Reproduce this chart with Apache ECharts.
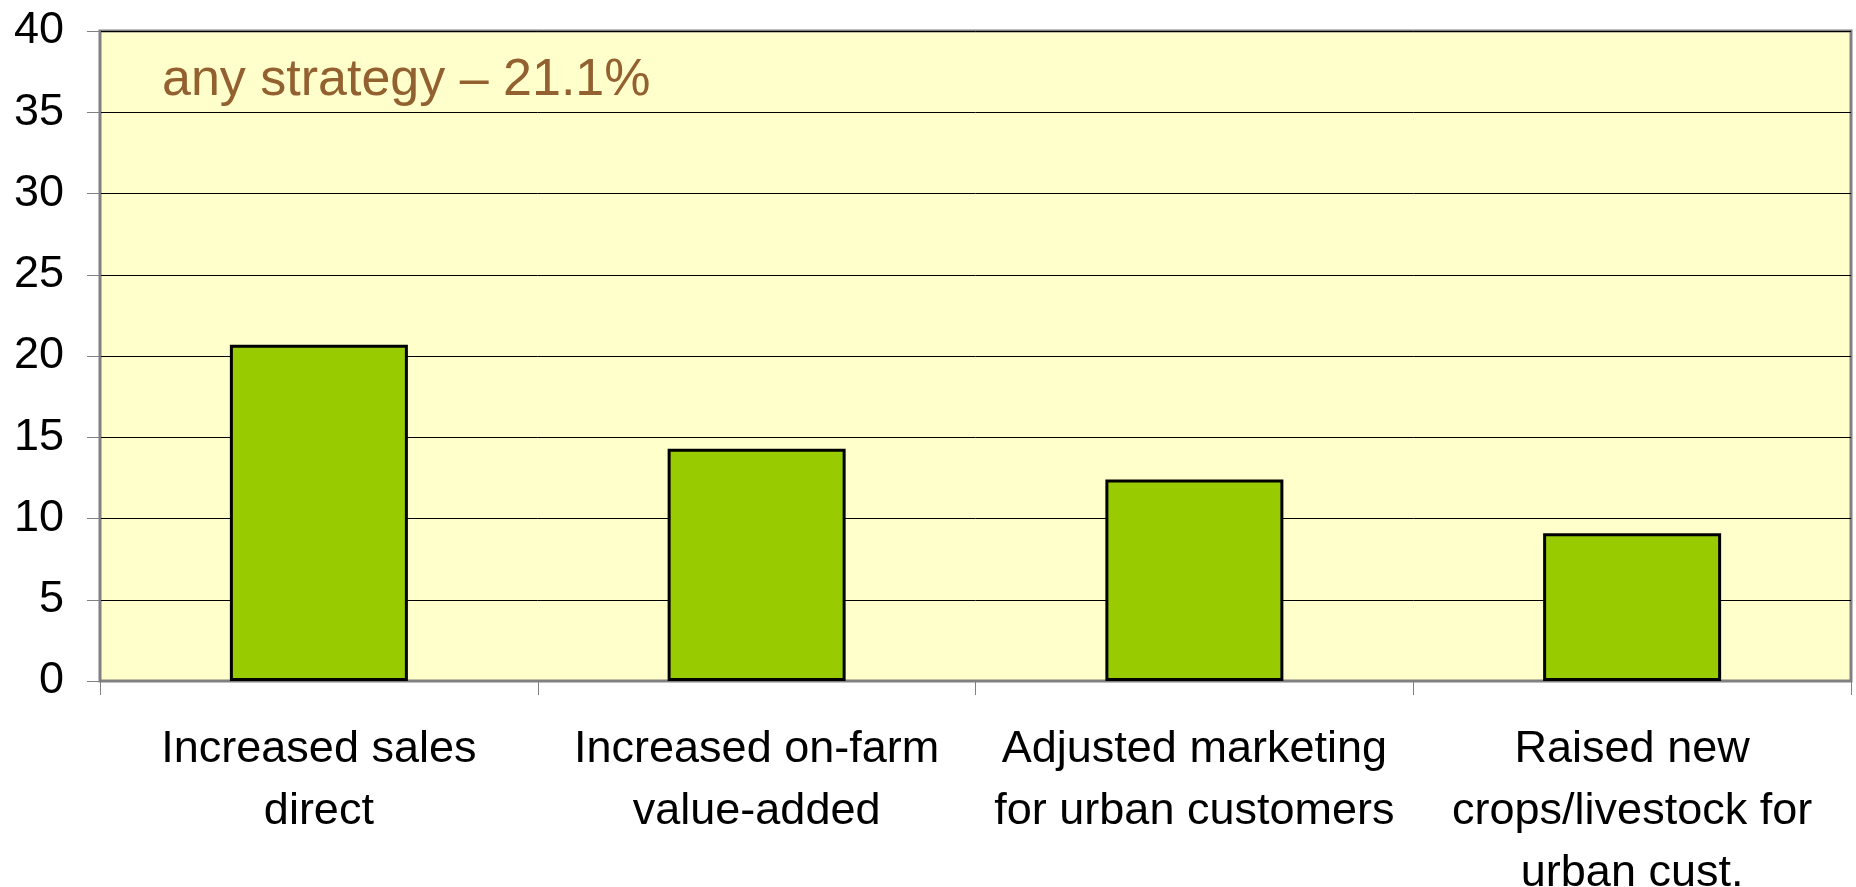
<!DOCTYPE html>
<html>
<head>
<meta charset="utf-8">
<title>any strategy</title>
<script src="https://cdn.jsdelivr.net/npm/echarts@6/dist/echarts.min.js"></script>
<style>
  html, body { margin: 0; padding: 0; background: #fff; }
  #chart { width: 1856px; height: 887px; }
</style>
</head>
<body>
<div id="chart"></div>
<script>
// data
const categories = [
  'Increased sales\ndirect',
  'Increased on-farm\nvalue-added',
  'Adjusted marketing\nfor urban customers',
  'Raised new\ncrops/livestock for\nurban cust.'
]
const values = [20.7, 14.3, 12.4, 9.1]
const yMin = 0
const yMax = 40
const yStep = 5
const note = 'any strategy \u2013 21.1%'

const font = '"Liberation Sans", Arial, sans-serif'
const myChart = echarts.init(document.getElementById('chart'))

const option = {
  animation: false,
  backgroundColor: '#ffffff',
  title: {
    text: note,
    left: 157,
    top: 50,
    textStyle: {
      fontFamily: font,
      fontSize: 52,
      fontWeight: 'normal',
      color: '#93602f',
      lineHeight: 52
    }
  },
  grid: {
    show: true,
    left: 100,
    right: 5,
    top: 31,
    bottom: 206,
    // labels under the last bar run off the bottom, keep the grid where it is
    outerBoundsMode: 'none',
    containLabel: false,
    backgroundColor: '#ffffcc',
    borderColor: '#808080',
    borderWidth: 3
  },
  xAxis: {
    type: 'category',
    data: categories,
    axisLine: { lineStyle: { color: '#808080', width: 2 } },
    axisTick: {
      show: true,
      alignWithLabel: false,
      length: 14,
      lineStyle: { color: '#808080', width: 1 }
    },
    axisLabel: {
      fontFamily: font,
      fontSize: 45,
      color: '#000',
      lineHeight: 62,
      margin: 38,
      interval: 0
    }
  },
  yAxis: {
    type: 'value',
    min: yMin,
    max: yMax,
    interval: yStep,
    axisLine: { show: true, lineStyle: { color: '#808080', width: 2 } },
    axisTick: { show: true, length: 13, lineStyle: { color: '#808080', width: 1 } },
    axisLabel: {
      fontFamily: font,
      fontSize: 45,
      color: '#000',
      margin: 36
    },
    splitLine: { show: true, lineStyle: { color: '#000', width: 1 } }
  },
  series: [
    {
      type: 'bar',
      data: values,
      barWidth: 178,
      itemStyle: {
        color: '#99cc00',
        borderColor: '#000',
        borderWidth: 3
      }
    }
  ]
}
myChart.setOption(option)
</script>
</body>
</html>
